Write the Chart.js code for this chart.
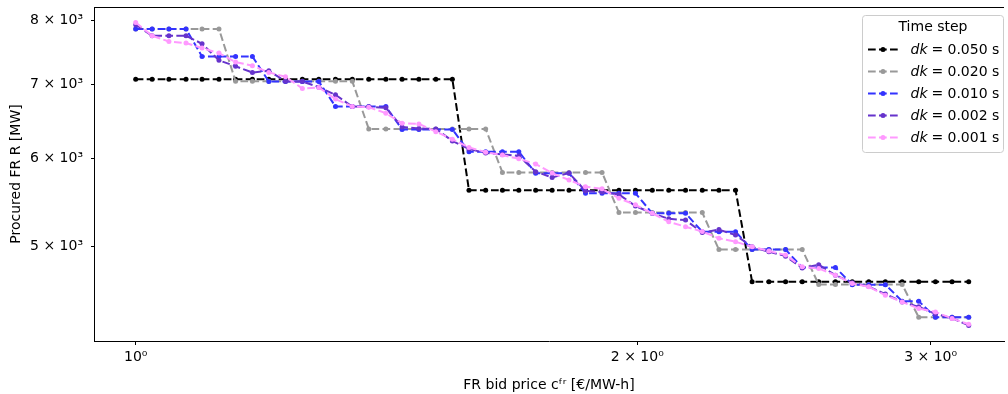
<!DOCTYPE html>
<html>
<head>
<meta charset="utf-8">
<script src="https://cdn.jsdelivr.net/npm/chart.js@4.4.0/dist/chart.umd.min.js"></script>
<style>
html, body { margin: 0; padding: 0; background: #fff; }
#wrap { width: 1008px; height: 394px; }
</style>
</head>
<body>
<div id="wrap"><canvas id="fr-chart" width="1008" height="394"></canvas></div>
<script>
// bid prices (log spaced)
var bidPrices = [1.000, 1.023, 1.047, 1.072, 1.096, 1.122, 1.148, 1.175, 1.202, 1.230,
    1.259, 1.288, 1.318, 1.349, 1.380, 1.413, 1.445, 1.479, 1.514, 1.549,
    1.585, 1.622, 1.660, 1.698, 1.738, 1.778, 1.820, 1.862, 1.905, 1.950,
    1.995, 2.042, 2.089, 2.138, 2.188, 2.239, 2.291, 2.344, 2.399, 2.455,
    2.512, 2.570, 2.630, 2.692, 2.754, 2.818, 2.884, 2.951, 3.020, 3.090, 3.162];

var seriesLabels = ['0.050', '0.020', '0.010', '0.002', '0.001'];

// procured FR [MW] for each time step
var dk050 = [7080, 7080, 7080, 7080, 7080, 7080, 7080, 7080, 7080, 7080,
    7080, 7080, 7080, 7080, 7080, 7080, 7080, 7080, 7080, 7080,
    5618, 5618, 5618, 5618, 5618, 5618, 5618, 5618, 5618, 5618,
    5618, 5618, 5618, 5618, 5618, 5618, 5618, 4643, 4643, 4643,
    4643, 4643, 4643, 4643, 4643, 4643, 4643, 4643, 4643, 4643, 4643];
var dk020 = [7858, 7858, 7858, 7858, 7858, 7858, 7048, 7048, 7048, 7048,
    7048, 7048, 7048, 7048, 6383, 6383, 6383, 6383, 6383, 6383,
    6383, 6383, 5830, 5830, 5830, 5830, 5830, 5830, 5830, 5363,
    5363, 5363, 5363, 5363, 5363, 4965, 4965, 4965, 4965, 4965,
    4965, 4618, 4618, 4618, 4618, 4618, 4618, 4312, 4312, 4312, 4312];
var dk010 = [7858, 7858, 7858, 7858, 7422, 7422, 7422, 7422, 7045, 7045,
    7045, 7045, 6687, 6687, 6687, 6687, 6377, 6377, 6377, 6377,
    6088, 6088, 6088, 6088, 5820, 5820, 5820, 5583, 5583, 5583,
    5583, 5355, 5355, 5355, 5153, 5153, 5153, 4965, 4965, 4965,
    4784, 4784, 4784, 4616, 4616, 4616, 4460, 4460, 4314, 4314, 4314];
var dk002 = [7929, 7749, 7749, 7749, 7621, 7363, 7272, 7178, 7204, 7048,
    7045, 6963, 6852, 6687, 6683, 6669, 6410, 6390, 6383, 6226,
    6121, 6072, 6053, 6034, 5840, 5770, 5822, 5610, 5598, 5569,
    5437, 5355, 5294, 5280, 5144, 5176, 5118, 4994, 4943, 4898,
    4779, 4812, 4708, 4635, 4598, 4526, 4453, 4408, 4343, 4305, 4240];
var dk001 = [7967, 7749, 7657, 7632, 7553, 7474, 7336, 7280, 7180, 7115,
    6944, 6958, 6792, 6687, 6679, 6596, 6460, 6450, 6347, 6248,
    6142, 6082, 6046, 5998, 5934, 5822, 5739, 5660, 5635, 5525,
    5450, 5355, 5262, 5207, 5155, 5083, 5047, 4994, 4952, 4909,
    4790, 4774, 4708, 4627, 4595, 4516, 4453, 4392, 4361, 4302, 4251];

var xTickValues = [1, 2, 3];
var xTickLabels = ['10\u2070', '2 \u00d7 10\u2070', '3 \u00d7 10\u2070'];
var yTickValues = [5000, 6000, 7000, 8000];
var yTickLabels = ['5 \u00d7 10\u00b3', '6 \u00d7 10\u00b3', '7 \u00d7 10\u00b3', '8 \u00d7 10\u00b3'];

var allSeries = [dk050, dk020, dk010, dk002, dk001];
var colors = ['#000000', '#999999', '#3333ff', '#6633cc', '#ff99ff'];
var dash = [7.7, 3.3];

Chart.defaults.font.family = "'DejaVu Sans', sans-serif";
Chart.defaults.font.size = 14;
Chart.defaults.color = '#000';

var datasets = allSeries.map(function (vals, k) {
    return {
        label: 'dk = ' + seriesLabels[k] + ' s',
        data: vals.map(function (v, i) { return {x: bidPrices[i], y: v}; }),
        borderColor: colors[k],
        backgroundColor: colors[k],
        borderWidth: 2,
        borderDash: dash,
        pointRadius: 2.5,
        pointBorderWidth: 0,
        pointBackgroundColor: colors[k],
        tension: 0,
        order: allSeries.length - 1 - k // later series on top, like matplotlib
    };
});

// top spine + matplotlib style legend box
var framePlugin = {
    id: 'frame',
    afterDraw: function (chart) {
        var ctx = chart.ctx, a = chart.chartArea;
        ctx.save();
        ctx.strokeStyle = '#000';
        ctx.lineWidth = 1;
        ctx.beginPath();
        ctx.moveTo(a.left, Math.round(a.top) + 0.5);
        ctx.lineTo(a.right, Math.round(a.top) + 0.5);
        ctx.stroke();

        // legend
        var bx = 862.5, by = 15.5, bw = 141, bh = 137;
        ctx.beginPath();
        ctx.roundRect(bx, by, bw, bh, 3);
        ctx.fillStyle = 'rgba(255,255,255,0.8)';
        ctx.fill();
        ctx.strokeStyle = '#cccccc';
        ctx.stroke();

        ctx.fillStyle = '#000';
        ctx.font = "14px 'DejaVu Sans'";
        ctx.textAlign = 'center';
        ctx.textBaseline = 'middle';
        ctx.fillText('Time step', 933, 27);

        ctx.textAlign = 'left';
        for (var k = 0; k < seriesLabels.length; k++) {
            var y = 49.5 + 22 * k;
            ctx.strokeStyle = colors[k];
            ctx.lineWidth = 2;
            ctx.setLineDash(dash);
            ctx.beginPath();
            ctx.moveTo(868, y);
            ctx.lineTo(898, y);
            ctx.stroke();
            ctx.setLineDash([]);
            ctx.fillStyle = colors[k];
            ctx.beginPath();
            ctx.arc(883, y, 2.5, 0, Math.PI * 2);
            ctx.fill();

            ctx.fillStyle = '#000';
            ctx.font = "italic 14px 'DejaVu Sans'";
            ctx.fillText('dk', 910.5, y + 0.5);
            ctx.font = "14px 'DejaVu Sans'";
            ctx.fillText('=', 931.5, y + 0.5);
            ctx.fillText(seriesLabels[k] + ' s', 947.5, y + 0.5);
        }
        ctx.restore();
    }
};

var ctx = document.getElementById('fr-chart').getContext('2d');
var myChart = new Chart(ctx, {
    type: 'line',
    data: { datasets: datasets },
    options: {
        responsive: false,
        animation: false,
        events: [],
        layout: { padding: { top: 7, right: -2, bottom: 0, left: 0 } },
        plugins: {
            legend: { display: false },
            tooltip: { enabled: false }
        },
        scales: {
            x: {
                type: 'logarithmic',
                position: 'bottom',
                min: 0.944,
                max: 3.32,
                border: { display: true, color: '#000', width: 1 },
                grid: { drawOnChartArea: false, drawTicks: true, tickLength: 4, tickColor: '#000', tickWidth: 1 },
                ticks: {
                    padding: 4,
                    maxRotation: 0,
                    autoSkip: false,
                    callback: function (v) {
                        var i = xTickValues.indexOf(v);
                        return i >= 0 ? xTickLabels[i] : '';
                    }
                },
                title: {
                    display: true,
                    text: 'FR bid price c\u1da0\u02b3 [\u20ac/MW-h]',
                    padding: { top: 0, bottom: 0 }
                },
                afterBuildTicks: function (s) {
                    s.ticks = xTickValues.map(function (v) { return {value: v}; });
                },
                afterFit: function (s) {
                    s.height = 53;
                    s.paddingLeft = 0;
                    s.paddingRight = 0;
                }
            },
            y: {
                type: 'logarithmic',
                min: 4105,
                max: 8227,
                border: { display: true, color: '#000', width: 1 },
                grid: { drawOnChartArea: false, drawTicks: true, tickLength: 3, tickColor: '#000', tickWidth: 1 },
                ticks: {
                    padding: 8,
                    autoSkip: false,
                    callback: function (v) {
                        var i = yTickValues.indexOf(v);
                        return i >= 0 ? yTickLabels[i] : '';
                    }
                },
                title: {
                    display: true,
                    text: 'Procured FR R [MW]',
                    padding: { top: 8, bottom: 0 }
                },
                afterBuildTicks: function (s) {
                    s.ticks = yTickValues.map(function (v) { return {value: v}; });
                },
                afterFit: function (s) {
                    s.width = 94;
                    s.paddingTop = 0;
                    s.paddingBottom = 0;
                }
            }
        }
    },
    plugins: [framePlugin]
});
</script>
</body>
</html>
